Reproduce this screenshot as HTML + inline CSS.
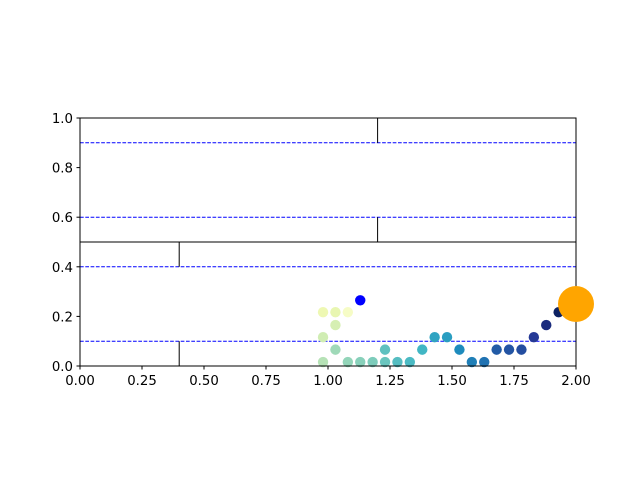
<!DOCTYPE html>
<html><head><meta charset="utf-8"><style>
html,body{margin:0;padding:0;background:#fff;}
svg text{font-family:"DejaVu Sans","Liberation Sans",sans-serif;font-size:13.3px;fill:#000;}
</style></head>
<body>
<svg id="chart" width="640" height="480" viewBox="0 0 640 480" xmlns="http://www.w3.org/2000/svg"></svg>
<script>
const xTicks=[0,0.25,0.5,0.75,1.0,1.25,1.5,1.75,2.0];
const xTickLabels=["0.00","0.25","0.50","0.75","1.00","1.25","1.50","1.75","2.00"];
const yTicks=[0,0.2,0.4,0.6,0.8,1.0];
const yTickLabels=["0.0","0.2","0.4","0.6","0.8","1.0"];
const dashedYs=[0.9,0.6,0.4,0.1];
const pointX=[0.98,1.03,1.08,1.03,0.98,1.03,0.98,1.08,1.13,1.18,1.23,1.23,1.28,1.33,1.38,1.43,1.48,1.53,1.58,1.63,1.68,1.73,1.78,1.83,1.88,1.93];
const pointY=[0.217,0.217,0.217,0.165,0.116,0.066,0.016,0.016,0.016,0.016,0.016,0.066,0.016,0.016,0.066,0.116,0.116,0.066,0.016,0.016,0.066,0.066,0.066,0.116,0.165,0.217];
const pointC=[0.12,0.14,0.06,0.2,0.22,0.32,0.28,0.34,0.36,0.38,0.42,0.44,0.46,0.48,0.5,0.56,0.58,0.64,0.67,0.7,0.76,0.78,0.8,0.86,0.92,0.98];
const bluePoint=[1.13,0.265];
const orangePoint=[2.0,0.25];

const X0=80,X1=576,Y0=366,Y1=118;
const sx=v=>X0+(v-0)/2*(X1-X0);
const sy=v=>Y0-(v-0)/1*(Y0-Y1);
const svg=document.getElementById('chart');
const NS="http://www.w3.org/2000/svg";
function mk(tag,attrs){const e=document.createElementNS(NS,tag);for(const k in attrs)e.setAttribute(k,attrs[k]);svg.appendChild(e);return e;}

const cmap=[[255,255,217],[237,248,177],[199,233,180],[127,205,187],[65,182,196],[29,145,192],[34,94,168],[37,52,148],[8,29,88]];
function col(t){t=Math.max(0,Math.min(1,t));const p=t*(cmap.length-1);const i=Math.min(Math.floor(p),cmap.length-2);const f=p-i;const c=cmap[i].map((v,k)=>Math.round(v+(cmap[i+1][k]-v)*f));return `rgb(${c.join(',')})`;}

dashedYs.forEach(v=>{const l=mk('line',{x1:X0,x2:X1,y1:sy(v),y2:sy(v),stroke:'#0000ff','stroke-width':1,'stroke-dasharray':'3.7,1.6'});

});
let l=mk('line',{x1:X0,x2:X1,y1:sy(0.5),y2:sy(0.5),stroke:'#000','stroke-width':1});

[[1.2,0.9,1.0],[1.2,0.5,0.6],[0.4,0.4,0.5],[0.4,0,0.1]].forEach(s=>{const v=mk('line',{x1:sx(s[0]),x2:sx(s[0]),y1:sy(s[1]),y2:sy(s[2]),stroke:'#000','stroke-width':1});

});

pointX.forEach((x,i)=>{const c=mk('circle',{cx:sx(x),cy:sy(pointY[i]),r:5.2,fill:col(pointC[i])});

});
let b=mk('circle',{cx:sx(bluePoint[0]),cy:sy(bluePoint[1]),r:5.2,fill:'#0000ff'});


let f=mk('rect',{x:X0,y:Y1,width:X1-X0,height:Y0-Y1,fill:'none',stroke:'#000','stroke-width':1});

let o=mk('circle',{cx:sx(orangePoint[0]),cy:sy(orangePoint[1]),r:18,fill:'#ffa500'});


xTicks.forEach((v,i)=>{const t=mk('line',{x1:sx(v),x2:sx(v),y1:Y0,y2:Y0+3.5,stroke:'#000'});

const tx=mk('text',{x:sx(v),y:Y0+19,'text-anchor':'middle'});tx.textContent=xTickLabels[i];
});
yTicks.forEach((v,i)=>{const t=mk('line',{x1:X0-3.5,x2:X0,y1:sy(v),y2:sy(v),stroke:'#000'});

const tx=mk('text',{x:X0-7,y:sy(v)+5,'text-anchor':'end'});tx.textContent=yTickLabels[i];
});
</script>
</body></html>
